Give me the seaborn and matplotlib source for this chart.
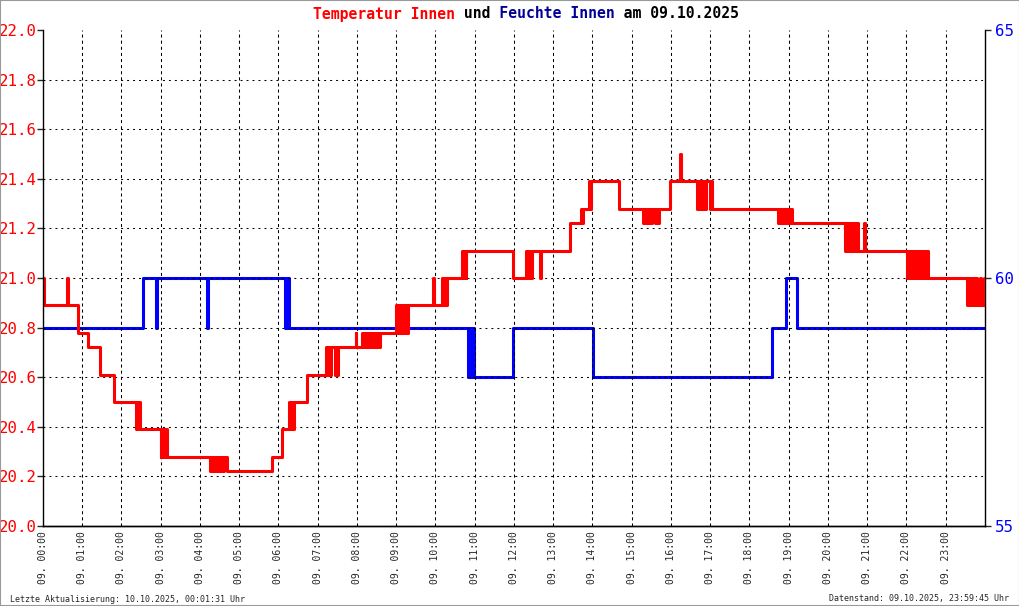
"""
Temperatur und Feuchte Innen am 09.10.2025 - Tagesverlauf
"""

import matplotlib
matplotlib.use("Agg")
import matplotlib.pyplot as plt
import matplotlib.ticker as mticker
from matplotlib.patches import Rectangle
import pandas as pd
import seaborn as sns

# ============================================================
# DATEN
# ============================================================

# Temperatur innen (°C), Stufenwerte ab Uhrzeit
TEMP_ZEIT = [
    "00:00", "00:01", "00:36", "00:38", "00:54", "01:09", "01:27", "01:48",
    "02:22", "02:23", "02:24", "02:25", "02:26", "02:27", "02:28",
    "03:00", "03:01", "03:02", "03:04", "03:06", "03:08", "03:10",
    "04:15", "04:17", "04:19", "04:21", "04:23", "04:25", "04:27", "04:29",
    "04:31", "04:33", "04:35", "04:37", "04:41",
    "05:50", "06:05", "06:16", "06:18", "06:20", "06:22", "06:24", "06:44",
    "07:13", "07:15", "07:17", "07:19", "07:21", "07:26", "07:28", "07:30", "07:31",
    "07:58", "07:59", "08:07", "08:09", "08:11", "08:13", "08:15", "08:17",
    "08:19", "08:21", "08:23", "08:25", "08:27", "08:29", "08:31", "08:33", "08:35",
    "09:00", "09:02", "09:04", "09:06", "09:08", "09:10", "09:12", "09:14",
    "09:16", "09:17", "09:18",
    "09:56", "09:57", "10:10", "10:12", "10:14", "10:16", "10:18",
    "10:40", "10:42", "10:44", "10:46", "10:47",
    "11:59", "12:19", "12:21", "12:23", "12:25", "12:27", "12:39", "12:41",
    "13:26", "13:43", "13:44", "13:46", "13:55", "13:56", "13:58", "14:41",
    "15:17", "15:19", "15:21", "15:23", "15:25", "15:27", "15:29", "15:31",
    "15:35", "15:37", "15:39", "15:41",
    "15:58", "16:13", "16:15",
    "16:40", "16:42", "16:44", "16:46", "16:48", "16:50", "16:52", "16:54",
    "16:59", "17:01", "17:03",
    "18:43", "18:45", "18:47", "18:49", "18:51", "18:53", "18:56", "18:58",
    "19:00", "19:02", "19:05",
    "20:26", "20:28", "20:30", "20:32", "20:34", "20:36", "20:38", "20:40",
    "20:42", "20:44", "20:46", "20:55", "20:57",
    "22:01", "22:03", "22:05", "22:07", "22:09", "22:11", "22:13", "22:15",
    "22:17", "22:19", "22:21", "22:23", "22:25", "22:27", "22:29", "22:31", "22:33",
    "23:32", "23:34", "23:36", "23:38", "23:40", "23:42", "23:44", "23:46",
    "23:48", "23:52", "23:54", "23:58", "24:00",
]
TEMP_WERT = [
    21.00, 20.89, 21.00, 20.89, 20.78, 20.72, 20.61, 20.50,
    20.39, 20.50, 20.39, 20.50, 20.39, 20.50, 20.39,
    20.28, 20.39, 20.28, 20.39, 20.28, 20.39, 20.28,
    20.22, 20.28, 20.22, 20.28, 20.22, 20.28, 20.22, 20.28,
    20.22, 20.28, 20.22, 20.28, 20.22,
    20.28, 20.39, 20.50, 20.39, 20.50, 20.39, 20.50, 20.61,
    20.72, 20.61, 20.72, 20.61, 20.72, 20.61, 20.72, 20.61, 20.72,
    20.78, 20.72, 20.78, 20.72, 20.78, 20.72, 20.78, 20.72,
    20.78, 20.72, 20.78, 20.72, 20.78, 20.72, 20.78, 20.72, 20.78,
    20.89, 20.78, 20.89, 20.78, 20.89, 20.78, 20.89, 20.78,
    20.89, 20.78, 20.89,
    21.00, 20.89, 21.00, 20.89, 21.00, 20.89, 21.00,
    21.11, 21.00, 21.11, 21.00, 21.11,
    21.00, 21.11, 21.00, 21.11, 21.00, 21.11, 21.00, 21.11,
    21.22, 21.28, 21.22, 21.28, 21.39, 21.28, 21.39, 21.28,
    21.22, 21.28, 21.22, 21.28, 21.22, 21.28, 21.22, 21.28,
    21.22, 21.28, 21.22, 21.28,
    21.39, 21.50, 21.39,
    21.28, 21.39, 21.28, 21.39, 21.28, 21.39, 21.28, 21.39,
    21.28, 21.39, 21.28,
    21.22, 21.28, 21.22, 21.28, 21.22, 21.28, 21.22, 21.28,
    21.22, 21.28, 21.22,
    21.11, 21.22, 21.11, 21.22, 21.11, 21.22, 21.11, 21.22,
    21.11, 21.22, 21.11, 21.22, 21.11,
    21.00, 21.11, 21.00, 21.11, 21.00, 21.11, 21.00, 21.11,
    21.00, 21.11, 21.00, 21.11, 21.00, 21.11, 21.00, 21.11, 21.00,
    20.89, 21.00, 20.89, 21.00, 20.89, 21.00, 20.89, 21.00,
    20.89, 21.00, 20.89, 21.00, 21.00,
]

# Relative Feuchte innen (%), Stufenwerte ab Uhrzeit
FEUCHTE_ZEIT = [
    "00:00", "02:33", "02:53", "02:54", "04:11", "04:12",
    "06:10", "06:11", "06:13", "06:14", "06:16",
    "10:50", "10:51", "10:53", "10:54", "10:56", "10:58", "10:59",
    "11:59", "14:01", "18:35", "18:56", "19:12", "24:00",
]
FEUCHTE_WERT = [
    59, 60, 59, 60, 59, 60,
    59, 60, 59, 60, 59,
    58, 59, 58, 59, 58, 59, 58,
    59, 58, 59, 60, 59, 59,
]

STUNDEN = list(range(24))
STUNDEN_LABELS = [f"09. {h:02d}:00" for h in STUNDEN]
TEMP_TICKS = [20.0, 20.2, 20.4, 20.6, 20.8, 21.0, 21.2, 21.4, 21.6, 21.8, 22.0]
FEUCHTE_TICKS = [55, 60, 65]

TITEL_TEILE = [
    ("Temperatur Innen", "#FF0000"),
    (" und ", "black"),
    ("Feuchte Innen", "#000099"),
    (" am 09.10.2025", "black"),
]
FUSS_LINKS = "Letzte Aktualisierung: 10.10.2025, 00:01:31 Uhr"
FUSS_RECHTS = "Datenstand: 09.10.2025, 23:59:45 Uhr"

# ============================================================
# STIL
# ============================================================

ROT = "#FF0000"
BLAU = "#0000FF"
MONO = "DejaVu Sans Mono"

sns.set_style("white")
plt.rcParams.update({
    "font.family": [MONO, "DejaVu Sans"],
    "lines.scale_dashes": False,
    "axes.linewidth": 1.0,
})


def _stunden(zeit):
    """'HH:MM' -> Stunden als float."""
    h, m = zeit.split(":")
    return int(h) + int(m) / 60


df_temp = pd.DataFrame({"t": [_stunden(z) for z in TEMP_ZEIT], "wert": TEMP_WERT})
df_feuchte = pd.DataFrame({"t": [_stunden(z) for z in FEUCHTE_ZEIT], "wert": FEUCHTE_WERT})

# ============================================================
# GRAFIK
# ============================================================

fig = plt.figure(figsize=(10.2, 6.06), dpi=100)
ax = fig.add_subplot(111)
fig.subplots_adjust(left=43 / 1020, right=985 / 1020, bottom=80 / 606, top=576 / 606)
ax2 = ax.twinx()

# Temperatur-Achse über der Feuchte-Achse (Gitter liegt über Blau, unter Rot)
ax.set_zorder(ax2.get_zorder() + 1)
ax.patch.set_visible(False)

sns.lineplot(data=df_feuchte, x="t", y="wert", ax=ax2, color=BLAU,
             linewidth=2.2, drawstyle="steps-post", estimator=None, sort=False)
sns.lineplot(data=df_temp, x="t", y="wert", ax=ax, color=ROT,
             linewidth=2.2, drawstyle="steps-post", estimator=None, sort=False)

ax.set_xlim(0, 24)
ax.set_ylim(20.0, 22.0)
ax2.set_ylim(55, 65)

ax.set_xticks(STUNDEN)
ax.set_xticklabels(STUNDEN_LABELS, rotation=90, fontsize=7, family=MONO)
ax.set_yticks(TEMP_TICKS)
ax.yaxis.set_major_formatter(mticker.FormatStrFormatter("%.1f"))
ax2.set_yticks(FEUCHTE_TICKS)

ax.tick_params(axis="x", length=0, pad=3.5)
ax.tick_params(axis="y", length=4, width=1, pad=0.5, labelcolor=ROT, labelsize=11.3)
ax2.tick_params(axis="y", length=4, width=1, pad=3, labelcolor=BLAU, labelsize=11.3)
for lbl in ax.get_yticklabels() + ax2.get_yticklabels():
    lbl.set_family(MONO)

ax.set_xlabel("")
ax.set_ylabel("")
ax2.set_ylabel("")

# Gitter: senkrecht gestrichelt, waagerecht gepunktet
ax.grid(axis="x", color="black", linewidth=0.75, linestyle=(0, (2.2, 2.2)))
ax.grid(axis="y", color="black", linewidth=0.75, linestyle=(0, (1.4, 2.9)))
ax.set_axisbelow(True)
ax.yaxis.get_gridlines()[-1].set_visible(False)

for a in (ax, ax2):
    a.spines["top"].set_visible(False)
    for s in a.spines.values():
        s.set_color("black")
ax2.spines["left"].set_visible(False)
ax.spines["right"].set_visible(False)

# Titel in mehreren Farben (Monospace, gleiche Zeichenbreite)
voll = "".join(t for t, _ in TITEL_TEILE)
pos = 0
for text, farbe in TITEL_TEILE:
    maske = " " * pos + text + " " * (len(voll) - pos - len(text))
    fig.text(313 / 1020, 1 - 14 / 606, maske, ha="left", va="center",
             color=farbe, family=MONO, weight="bold", fontsize=10.6)
    pos += len(text)

fig.text(10 / 1020, 7 / 606, FUSS_LINKS, ha="left", va="center",
         family=MONO, fontsize=6)
fig.text(1009 / 1020, 7 / 606, FUSS_RECHTS, ha="right", va="center",
         family=MONO, fontsize=6)

# grauer Rahmen ums Bild
fig.patches.append(Rectangle((0, 0), 1, 1, transform=fig.transFigure,
                             fill=False, edgecolor="#999999", linewidth=1.5))

fig.savefig("out.png", dpi=100, facecolor="white")
plt.close(fig)
